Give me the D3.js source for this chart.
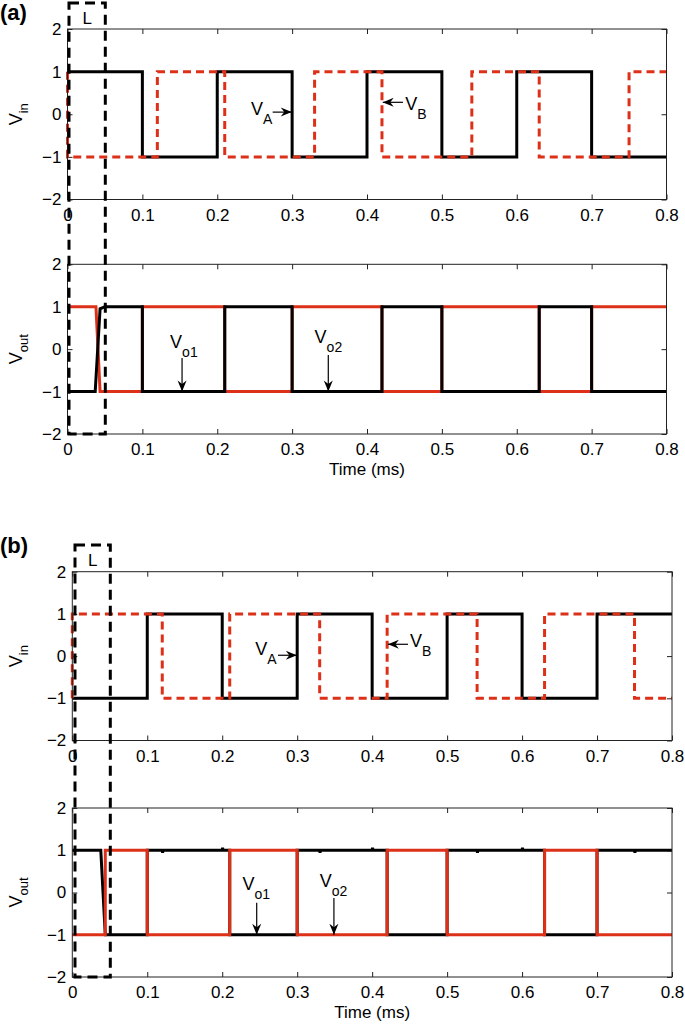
<!DOCTYPE html>
<html>
<head>
<meta charset="utf-8">
<script src="https://cdn.jsdelivr.net/npm/d3@7"></script>
<style>
  body { margin: 0; background: #fff; }
  svg { display: block; font-family: "Liberation Sans", Arial, Helvetica, sans-serif; }
</style>
</head>
<body>
<svg id="fig" width="685" height="1024"></svg>
<script>
// ---- ticks ----
const xTicks = [0, 0.1, 0.2, 0.3, 0.4, 0.5, 0.6, 0.7, 0.8];
const xTickLabels = ["0", "0.1", "0.2", "0.3", "0.4", "0.5", "0.6", "0.7", "0.8"];
const yTicks = [-2, -1, 0, 1, 2];
const yTickLabels = ["\u22122", "\u22121", "0", "1", "2"];

// ---- (a) inputs, [time ms, volts] ----
const aVinA = [[0,1],[0.1,1],[0.1,-1],[0.2,-1],[0.2,1],[0.3,1],[0.3,-1],[0.4,-1],[0.4,1],[0.5,1],[0.5,-1],[0.6,-1],[0.6,1],[0.7,1],[0.7,-1],[0.8,-1]];
const aVinB = [[0,1],[0,-1],[0.12,-1],[0.12,1],[0.21,1],[0.21,-1],[0.33,-1],[0.33,1],[0.42,1],[0.42,-1],[0.54,-1],[0.54,1],[0.63,1],[0.63,-1],[0.75,-1],[0.75,1],[0.8,1]];
// ---- (a) outputs ----
const aVo1 = [[0,-1],[0.037,-1],[0.0435,0.95],[0.05,1],[0.1,1],[0.1,-1],[0.21,-1],[0.21,1],[0.3,1],[0.3,-1],[0.42,-1],[0.42,1],[0.5,1],[0.5,-1],[0.63,-1],[0.63,1],[0.7,1],[0.7,-1],[0.8,-1]];
const aVo2 = [[0,1],[0.038,1],[0.0435,-1],[0.1,-1],[0.1,1],[0.21,1],[0.21,-1],[0.3,-1],[0.3,1],[0.42,1],[0.42,-1],[0.5,-1],[0.5,1],[0.63,1],[0.63,-1],[0.7,-1],[0.7,1],[0.8,1]];

// ---- (b) inputs ----
const bVinA = [[0,-1],[0.1,-1],[0.1,1],[0.2,1],[0.2,-1],[0.3,-1],[0.3,1],[0.4,1],[0.4,-1],[0.5,-1],[0.5,1],[0.6,1],[0.6,-1],[0.7,-1],[0.7,1],[0.8,1]];
const bVinB = [[0,-1],[0,1],[0.12,1],[0.12,-1],[0.21,-1],[0.21,1],[0.33,1],[0.33,-1],[0.42,-1],[0.42,1],[0.54,1],[0.54,-1],[0.63,-1],[0.63,1],[0.75,1],[0.75,-1],[0.8,-1]];
// ---- (b) outputs (small glitches on Vo1 where VB switches) ----
const bVo1 = [[0,1],[0.038,1],[0.044,-1],[0.1,-1],[0.1,1],[0.12,1],[0.1205,0.94],[0.121,1],[0.2,1],[0.2005,1.06],[0.201,1],[0.21,1],[0.21,-1],[0.3,-1],[0.3,1],[0.33,1],[0.3305,0.94],[0.331,1],[0.4,1],[0.4005,1.06],[0.401,1],[0.42,1],[0.42,-1],[0.5,-1],[0.5,1],[0.54,1],[0.5405,0.94],[0.541,1],[0.6,1],[0.6005,1.06],[0.601,1],[0.63,1],[0.63,-1],[0.7,-1],[0.7,1],[0.75,1],[0.7505,0.94],[0.751,1],[0.8,1]];
const bVo2 = [[0,-1],[0.044,-1],[0.044,1],[0.1,1],[0.1,-1],[0.21,-1],[0.21,1],[0.3,1],[0.3,-1],[0.42,-1],[0.42,1],[0.5,1],[0.5,-1],[0.63,-1],[0.63,1],[0.7,1],[0.7,-1],[0.8,-1]];

// ---- annotations: [label, subscript, textX, textY, arrowFromX, arrowFromY, arrowToX, arrowToY] (data units) ----
const aInNotes  = [["V","A",0.245,-0.02,0.274,0.05,0.2995,0.05], ["V","B",0.451,0.10,0.448,0.28,0.421,0.28]];
const aOutNotes = [["V","o1",0.137,0.03,0.153,-0.21,0.153,-1], ["V","o2",0.330,0.145,0.3483,-0.14,0.3483,-1]];
const bInNotes  = [["V","A",0.244,0.03,0.2744,0.02,0.2995,0.02], ["V","B",0.4505,0.216,0.4478,0.28,0.421,0.28]];
const bOutNotes = [["V","o1",0.227,0.06,0.246,-0.24,0.246,-1], ["V","o2",0.330,0.13,0.349,-0.13,0.349,-1]];

// ---- dashed "L" window: [x0, x1, yTop(top panel units), yBottom(bottom panel units)] ----
const aBoxL = [0.002, 0.0505, 2.61, -2];
const bBoxL = [0.0036, 0.0507, 2.63, -2];

const black = "#000";
const red = "#dc3118";
const lineW = 3;

const svg = d3.select("#fig");

svg.append("defs").append("marker")
    .attr("id", "head")
    .attr("viewBox", "-12 -6 12 12")
    .attr("refX", 0).attr("refY", 0)
    .attr("markerWidth", 12).attr("markerHeight", 12)
    .attr("markerUnits", "userSpaceOnUse")
    .attr("orient", "auto")
  .append("path")
    .attr("d", "M0,0L-11,-4.5L-7.5,0L-11,4.5Z")
    .attr("fill", black);

const makePanel = (p) => {
    const x = d3.scaleLinear().domain([0, 0.8]).range([p.left, p.right]);
    const y = d3.scaleLinear().domain([-2, 2]).range([p.bottom, p.top]);

    // ticks inside, on all four sides
    const g = svg.append("g").attr("class", "axes");
    g.append("g")
        .attr("transform", `translate(0,${p.bottom})`)
        .call(d3.axisBottom(x).tickValues(xTicks).tickFormat((d, i) => xTickLabels[i])
            .tickSizeInner(-5).tickSizeOuter(0).tickPadding(9));
    g.append("g")
        .attr("transform", `translate(0,${p.top})`)
        .call(d3.axisTop(x).tickValues(xTicks).tickFormat("").tickSizeInner(-5).tickSizeOuter(0));
    g.append("g")
        .attr("transform", `translate(${p.left},0)`)
        .call(d3.axisLeft(y).tickValues(yTicks).tickFormat((d, i) => yTickLabels[i])
            .tickSizeInner(-5).tickSizeOuter(0).tickPadding(6));
    g.append("g")
        .attr("transform", `translate(${p.right},0)`)
        .call(d3.axisRight(y).tickValues(yTicks).tickFormat("").tickSizeInner(-5).tickSizeOuter(0));
    g.selectAll(".domain").remove();
    g.selectAll(".tick line").attr("stroke", "#222");
    g.selectAll("g").attr("font-size", null).attr("font-family", null);
    g.selectAll(".tick text").attr("font-size", 17).attr("fill", black);

    // series
    const line = d3.line().x(d => x(d[0])).y(d => y(d[1]));
    svg.append("g").selectAll("path")
        .data(p.series)
        .join("path")
        .attr("d", s => line(s.data))
        .attr("fill", "none")
        .attr("stroke", s => s.color)
        .attr("stroke-width", lineW)
        .attr("stroke-dasharray", s => s.dash);

    // frame
    svg.append("rect")
        .attr("x", p.left).attr("y", p.top)
        .attr("width", p.right - p.left).attr("height", p.bottom - p.top)
        .attr("fill", "none").attr("stroke", "#222").attr("stroke-width", 1);

    // y label with subscript
    const yl = svg.append("text")
        .attr("transform", `translate(22,${(p.top + p.bottom) / 2}) rotate(-90)`)
        .attr("text-anchor", "middle")
        .attr("font-size", 18);
    yl.append("tspan").text("V");
    yl.append("tspan").text(p.ysub).attr("font-size", 13).attr("dy", 6);

    if (p.time) {
        svg.append("text")
            .attr("x", (p.left + p.right) / 2).attr("y", p.bottom + 41)
            .attr("text-anchor", "middle").attr("font-size", 17)
            .text("Time (ms)");
    }

    // annotations
    p.notes.forEach(n => {
        svg.append("line")
            .attr("x1", x(n[4])).attr("y1", y(n[5]))
            .attr("x2", x(n[6])).attr("y2", y(n[7]))
            .attr("stroke", black).attr("stroke-width", 1.2)
            .attr("marker-end", "url(#head)");
        const t = svg.append("text")
            .attr("x", x(n[2])).attr("y", y(n[3]))
            .attr("font-size", 18);
        t.append("tspan").text(n[0]);
        t.append("tspan").text(n[1]).attr("font-size", 14).attr("dy", 9);
    });

    return {x, y};
};

const drawBox = (top, bottom, box, letter, letterY) => {
    const x0 = top.x(box[0]), x1 = top.x(box[1]);
    const y0 = top.y(box[2]), y1 = bottom.y(box[3]);
    svg.append("rect")
        .attr("x", x0).attr("y", y0)
        .attr("width", x1 - x0).attr("height", y1 - y0)
        .attr("fill", "none").attr("stroke", black)
        .attr("stroke-width", 3).attr("stroke-dasharray", "10,6");
    svg.append("text")
        .attr("x", (x0 + x1) / 2).attr("y", y0 + 21)
        .attr("text-anchor", "middle").attr("font-size", 17)
        .text("L");
    svg.append("text")
        .attr("x", 0).attr("y", letterY)
        .attr("font-size", 22).attr("font-weight", "bold")
        .text(letter);
};

// ---- (a) ----
const a1 = makePanel({left: 67.5, right: 666.5, top: 29, bottom: 199.5, ysub: "in", time: false,
    series: [{data: aVinA, color: black, dash: null}, {data: aVinB, color: red, dash: "8,5"}],
    notes: aInNotes});
const a2 = makePanel({left: 67.5, right: 666.5, top: 264.3, bottom: 434, ysub: "out", time: true,
    series: [{data: aVo2, color: red, dash: null}, {data: aVo1, color: black, dash: null}],
    notes: aOutNotes});
drawBox(a1, a2, aBoxL, "(a)", 20);

// ---- (b) ----
const b1 = makePanel({left: 72.3, right: 672, top: 571.7, bottom: 740.5, ysub: "in", time: false,
    series: [{data: bVinA, color: black, dash: null}, {data: bVinB, color: red, dash: "8,5"}],
    notes: bInNotes});
const b2 = makePanel({left: 72.3, right: 672, top: 808, bottom: 977, ysub: "out", time: true,
    series: [{data: bVo1, color: black, dash: null}, {data: bVo2, color: red, dash: null}],
    notes: bOutNotes});
drawBox(b1, b2, bBoxL, "(b)", 553);
</script>
</body>
</html>
